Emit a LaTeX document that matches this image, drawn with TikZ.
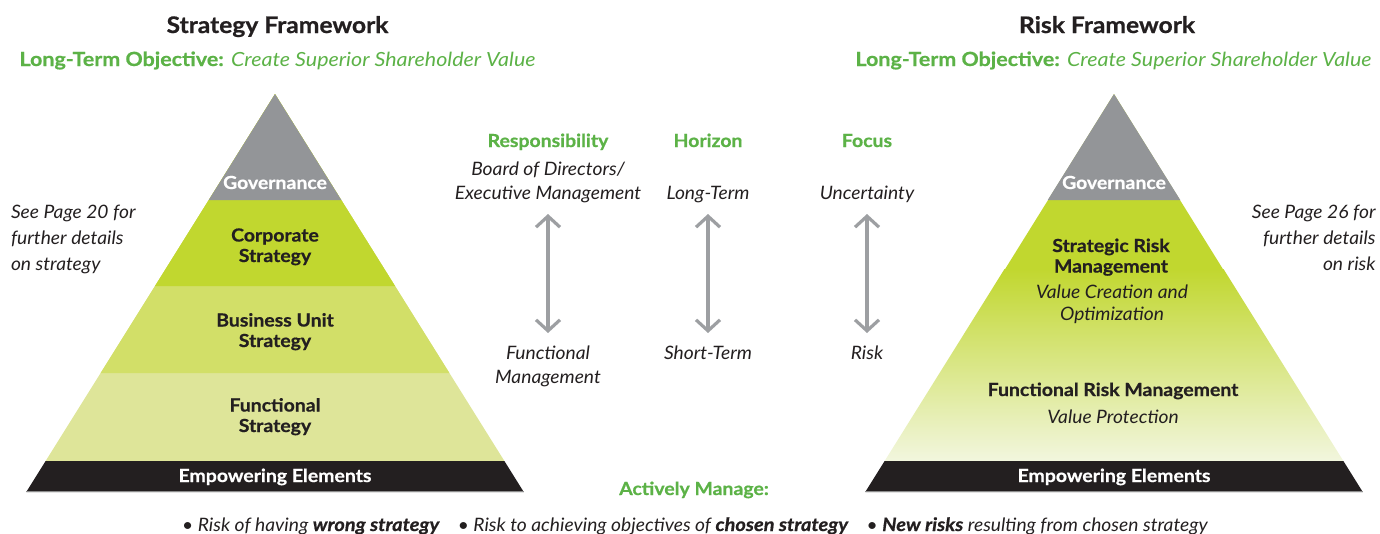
\documentclass[tikz,border=0pt]{standalone}
\usepackage{fontspec}
\setmainfont{Lato}[BoldFeatures={FakeStretch=1.08,FakeBold=0.7},ItalicFeatures={FakeStretch=1.04},BoldItalicFeatures={FakeStretch=1.08,FakeBold=0.7}]
\newfontfamily\objfont{Lato}[FakeStretch=1.1,BoldFeatures={FakeBold=0.6}]
\usetikzlibrary{arrows.meta}
\definecolor{ink}{HTML}{231F20}
\definecolor{leaf}{HTML}{5CB247}
\definecolor{govgrey}{HTML}{939598}
\definecolor{corp}{HTML}{C1D72F}
\definecolor{unit}{HTML}{D2DF68}
\definecolor{func}{HTML}{DEE599}
\definecolor{pale}{HTML}{F2F6DE}
\definecolor{arrowgrey}{HTML}{9D9FA2}
\definecolor{rim}{HTML}{8C8C8C}
\begin{document}
\begin{tikzpicture}[x=1pt,y=-1pt,
  every node/.style={inner sep=0pt,outer sep=0pt},
  title/.style={font=\fontsize{22.8}{26}\selectfont\bfseries,text=ink,anchor=base},
  objective/.style={font=\objfont\fontsize{19.5}{22}\selectfont,text=leaf,anchor=base},
  tier/.style={font=\fontsize{18}{20.5}\selectfont\bfseries,text=ink,align=center,anchor=base},
  tierw/.style={tier,text=white},
  tiernote/.style={font=\fontsize{18.5}{22}\selectfont\itshape,text=ink,align=center,anchor=base},
  note/.style={font=\fontsize{18.5}{26.2}\selectfont\itshape,text=ink},
  head/.style={font=\fontsize{18}{22}\selectfont\bfseries,text=leaf,anchor=base},
  item/.style={font=\fontsize{18.5}{24}\selectfont\itshape,text=ink,align=center,anchor=base},
  span/.style={draw=arrowgrey,line width=3.2pt,
    {Straight Barb[length=11pt,width=24pt]}-{Straight Barb[length=11pt,width=24pt]}},
]
\useasboundingbox (0,0) rectangle (1380,533);

% ---- strategy pyramid (layers stacked from the bottom up)
\fill[func] (275,94) -- (504.375,461) -- (45.625,461) -- cycle;
\fill[unit] (275,94) -- (449.375,373) -- (100.625,373) -- cycle;
\fill[corp] (275,94) -- (395,286) -- (155,286) -- cycle;
\fill[govgrey] (275,94) -- (341.25,200) -- (208.75,200) -- cycle;
\fill[ink] (45.625,461) -- (504.375,461) -- (523.75,492) -- (26.25,492) -- cycle;
\draw[rim,line width=0.8pt] (26.25,491.6) -- (523.75,491.6);

% ---- risk pyramid
\fill[corp] (1114,94) -- (1223.5,270) -- (1004.5,270) -- cycle;
\shade[top color=corp,bottom color=pale]
  (1004.5,269) -- (1223.5,269) -- (1343.375,461) -- (884.625,461) -- cycle;
\fill[govgrey] (1114,94) -- (1180.25,200) -- (1047.75,200) -- cycle;
\fill[ink] (884.625,461) -- (1343.375,461) -- (1362.75,492) -- (865.25,492) -- cycle;
\draw[rim,line width=0.8pt] (865.25,491.6) -- (1362.75,491.6);

% ---- titles
\node[title] (stitle) at (277.5,33) {Strategy Framework};
\node[objective] (sobj) at (277.5,66) {\textbf{Long-Term Objective:} \textit{Create Superior Shareholder Value}};
\node[title] (rtitle) at (1107,33) {Risk Framework};
\node[objective] (robj) at (1113.5,66) {\textbf{Long-Term Objective:} \textit{Create Superior Shareholder Value}};

% ---- strategy layers (base anchor sits on the last line)
\node[tierw] (sgov) at (275,189) {Governance};
\node[tier] (scorp) at (275,262) {Corporate\\Strategy};
\node[tier] (sunit) at (275,347) {Business Unit\\Strategy};
\node[tier] (sfunc) at (275,432) {Functional\\Strategy};
\node[tierw] (semp) at (275,482) {Empowering Elements};

% ---- risk layers
\node[tierw] (rgov) at (1114,189) {Governance};
\node[tier] (rstrat) at (1111,272.5) {Strategic Risk\\Management};
\node[tiernote] (rstratv) at (1112,320.5) {Value Creation and\\Optimization};
\node[tier] (rfunc) at (1113,396) {Functional Risk Management};
\node[tiernote] (rfuncv) at (1113,423) {Value Protection};
\node[tierw] (remp) at (1114,482) {Empowering Elements};

% ---- side notes
\node[note,align=left,anchor=base west] (snote) at (11,270.5) {See Page 20 for\\further details\\on strategy};
\node[note,align=right,anchor=base east] (rnote) at (1375.5,270.5) {See Page 26 for\\further details\\on risk};

% ---- comparison columns
\node[head] (hresp) at (548,147) {Responsibility};
\node[head] (hhor) at (708,147) {Horizon};
\node[head] (hfoc) at (867,147) {Focus};
\node[item] (rtop) at (548,199) {Board of Directors/\\Executive Management};
\node[item] (htop) at (708,199) {Long-Term};
\node[item] (ftop) at (867,199) {Uncertainty};
\node[item] (rbot) at (548,383) {Functional\\Management};
\node[item] (hbot) at (708,359) {Short-Term};
\node[item] (fbot) at (867,359) {Risk};
\coordinate (hi) at (0,214);
\coordinate (lo) at (0,333);
\draw[span] (rtop |- hi) -- (rbot |- lo);
\draw[span] (htop |- hi) -- (hbot |- lo);
\draw[span] (ftop |- hi) -- (fbot |- lo);

% ---- bottom line
\node[head] (manage) at (694,495) {Actively Manage:};
\node[item] (risks) at (695,531) {\textbullet\ Risk of having \textbf{wrong strategy}\quad
  \textbullet\ Risk to achieving objectives of \textbf{chosen strategy}\quad
  \textbullet\ \textbf{New risks} resulting from chosen strategy};
\end{tikzpicture}
\end{document}
